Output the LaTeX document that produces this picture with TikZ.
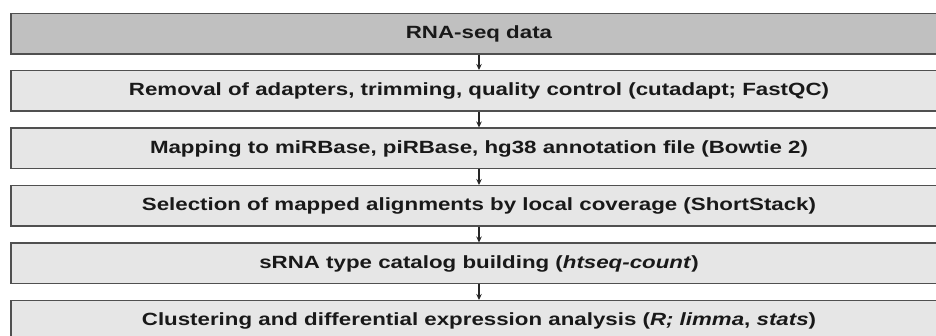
\documentclass[tikz,border=0pt]{standalone}
\usepackage{fontspec}
\setmainfont{Liberation Sans}[FakeStretch=1.26]
\usetikzlibrary{arrows.meta}
\definecolor{headfill}{HTML}{C0C0C0}
\definecolor{boxfill}{HTML}{E6E6E6}
\definecolor{boxline}{HTML}{505050}
\begin{document}
\begin{tikzpicture}[x=1pt,y=-1pt,
  stepbox/.style={draw=boxline, line width=1.5pt, fill=boxfill, minimum width=936pt, minimum height=40.5pt, inner sep=0pt, font=\fontsize{17.7}{20}\selectfont\bfseries, text=black!90},
  headbox/.style={stepbox, fill=headfill},
  flow/.style={line width=1.1pt, black!85, -{Stealth[length=6pt,width=5.5pt]}}]
\useasboundingbox (0,0) rectangle (936,336);
\clip (0,0) rectangle (936,336);
\node[headbox] (b1) at (479,33.6) {RNA-seq data};
\node[stepbox] (b2) at (479,91.0) {Removal of adapters, trimming, quality control (cutadapt; FastQC)};
\node[stepbox] (b3) at (479,148.5) {Mapping to miRBase, piRBase, hg38 annotation file (Bowtie 2)};
\node[stepbox] (b4) at (479,206.0) {Selection of mapped alignments by local coverage (ShortStack)};
\node[stepbox] (b5) at (479,263.5) {sRNA type catalog building (\textit{htseq-count})};
\node[stepbox] (b6) at (479,321.0) {Clustering and differential expression analysis (\textit{R; limma}, \textit{stats})};
\draw[flow] (b1.south) -- (b2.north);
\draw[flow] (b2.south) -- (b3.north);
\draw[flow] (b3.south) -- (b4.north);
\draw[flow] (b4.south) -- (b5.north);
\draw[flow] (b5.south) -- (b6.north);
\end{tikzpicture}
\end{document}
